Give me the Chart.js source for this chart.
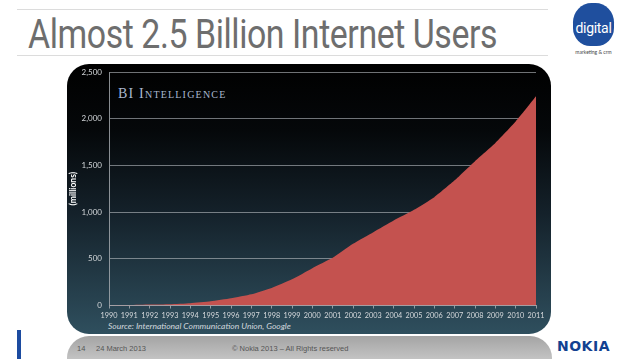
<!DOCTYPE html>
<html>
<head>
<meta charset="utf-8">
<script src="https://cdn.jsdelivr.net/npm/chart.js@4"></script>
<style>
  html, body { margin: 0; padding: 0; background: #fff; }
  body { width: 638px; height: 359px; position: relative; overflow: hidden; font-family: Lato, "Open Sans", sans-serif; }
  .rule { position: absolute; left: 17px; width: 531px; height: 1px; background: #dcdcdc; }
  #title { position: absolute; left: 28px; top: 11px; font-family: Roboto, sans-serif; font-weight: 400; font-size: 40px; color: #6e6e6e; white-space: nowrap; transform-origin: 0 0; letter-spacing: -0.5px; }
  #logo { position: absolute; left: 573px; top: 3px; width: 41px; height: 43px; background: #1f4f9e; border-radius: 45% 45% 42% 42%; }
  #logo span { position: absolute; left: -2px; top: 17px; width: 45px; text-align: center; color: #fff; font-family: Roboto, sans-serif; font-size: 14px; letter-spacing: -0.3px; }
  #logosub { position: absolute; left: 571px; top: 49px; width: 45px; text-align: center; font-size: 5px; color: #444; }
  #reflect { position: absolute; left: 67px; top: 336px; width: 485px; height: 30px; border-radius: 22px 22px 0 0; background: linear-gradient(#a4a4a4, #cccccc); }
  #panel { position: absolute; left: 67px; top: 64px; width: 484px; height: 270px; border-radius: 22px; background: linear-gradient(#000 0%, #05080a 25%, #14212a 55%, #2f4f5e 100%); }
  #bi { position: absolute; left: 118px; top: 86px; font-family: "Liberation Serif", serif; font-variant: small-caps; font-size: 14px; letter-spacing: 1.2px; color: #a9b8d0; }
  #source { position: absolute; left: 108px; top: 321px; font-style: italic; font-size: 8.5px; color: #d2d8de; }
  #bar { position: absolute; left: 17px; top: 330px; width: 4px; height: 29px; background: #1c4ba0; }
  .foot { position: absolute; top: 344px; font-family: "Liberation Sans", sans-serif; font-size: 7.5px; color: #555; }
  #nokia { position: absolute; left: 557px; top: 338px; font-family: "DejaVu Sans", sans-serif; font-weight: bold; font-size: 14px; letter-spacing: 0.5px; color: #124191; }
  #chartbox { position: absolute; left: 0; top: 0; width: 638px; height: 359px; }
</style>
</head>
<body>
<div class="rule" style="top:9px"></div>
<div class="rule" style="top:55px"></div>
<div id="title">Almost 2.5 Billion Internet Users</div>
<div id="logo"><span>digital</span></div>
<div id="logosub">marketing &amp; crm</div>
<div id="reflect"></div>
<div id="panel"></div>
<div id="bi">BI Intelligence</div>
<div id="source">Source: International Communication Union, Google</div>
<div id="bar"></div>
<div class="foot" style="left:77px">14</div>
<div class="foot" style="left:96px">24 March 2013</div>
<div class="foot" style="left:232px">© Nokia 2013 – All Rights reserved</div>
<div id="nokia">NOKIA</div>
<div id="chartbox"><canvas id="chart" width="638" height="359"></canvas></div>
<script>
"use strict";

const years = ["1990", "1991", "1992", "1993", "1994", "1995", "1996", "1997", "1998", "1999", "2000",
               "2001", "2002", "2003", "2004", "2005", "2006", "2007", "2008", "2009", "2010", "2011"];
const users = [2.6, 4.4, 10, 14, 25, 45, 77, 120, 188, 280, 400,
               510, 660, 785, 910, 1025, 1160, 1340, 1545, 1740, 1970, 2240];
const yTicks = [0, 500, 1000, 1500, 2000, 2500];

// squeeze the title into its box
let title = document.getElementById("title");
title.style.transform = `scaleX(${469 / title.scrollWidth})`;

let ctx = document.getElementById("chart").getContext("2d");
let chart = new Chart(ctx, {
    type: 'line',
    data: {
        labels: years,
        datasets: [{
            data: users,
            fill: 'origin',
            backgroundColor: '#c4524f',
            borderWidth: 0,
            pointRadius: 0,
            tension: 0.15
        }]
    },
    options: {
        responsive: false,
        animation: false,
        layout: { padding: { left: 66, right: 102, top: 72, bottom: 37.5 } },
        plugins: { legend: { display: false }, tooltip: { enabled: false } },
        scales: {
            x: {
                afterFit: s => { s.height = 16; },
                grid: { drawOnChartArea: false, drawTicks: true, tickLength: 3, color: 'rgba(170,175,180,0.8)' },
                border: { color: 'rgba(170,175,180,0.8)' },
                ticks: { color: '#d6d9dc', font: { family: 'Lato', size: 7.3 }, padding: 3, maxRotation: 0, autoSkip: false }
            },
            y: {
                min: 0,
                max: 2500,
                afterFit: s => { s.width = 43; },
                afterBuildTicks: s => { s.ticks = yTicks.map(v => ({ value: v })); },
                grid: { drawTicks: false, color: 'rgba(185,190,195,0.6)' },
                border: { color: 'rgba(170,175,180,0.8)' },
                ticks: {
                    color: '#d3d7da',
                    font: { family: 'Lato', size: 8 },
                    padding: 7,
                    callback: v => v.toLocaleString('en-US')
                },
                title: {
                    display: true,
                    text: '(millions)',
                    color: '#ffffff',
                    font: { family: 'Lato', size: 8.5, weight: 'bold' },
                    padding: { top: 2, bottom: 0 }
                }
            }
        }
    }
});
</script>
</body>
</html>
